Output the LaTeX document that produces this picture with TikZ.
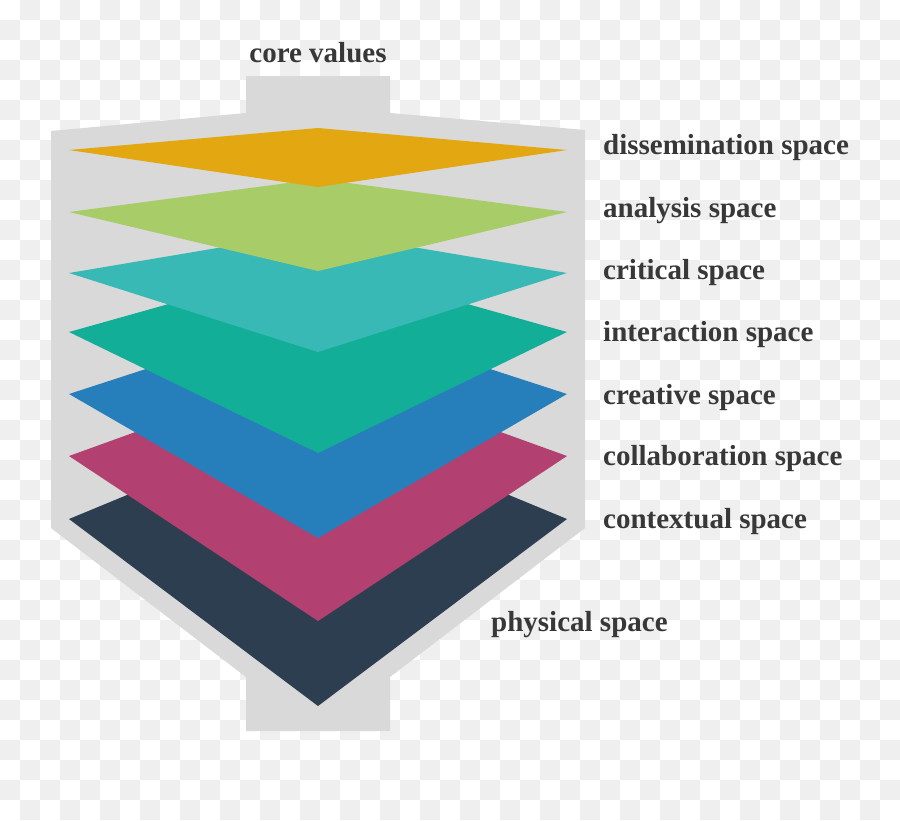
\documentclass[tikz,border=0pt]{standalone}
\usepackage{fontspec}
\setmainfont{Liberation Serif}
\definecolor{checkgray}{HTML}{EFEFEF}
\definecolor{framegray}{HTML}{D9D9D9}
\definecolor{txt}{HTML}{383838}
\definecolor{cDiss}{HTML}{E2A711}
\definecolor{cAna}{HTML}{A8CC67}
\definecolor{cCrit}{HTML}{38B9B5}
\definecolor{cInt}{HTML}{13AE98}
\definecolor{cCrea}{HTML}{267FBB}
\definecolor{cColl}{HTML}{B24172}
\definecolor{cCont}{HTML}{2D3E50}
\tikzset{
  lbl/.style={font=\bfseries\fontsize{29}{34}\selectfont, text=txt, inner sep=0pt, anchor=base west},
}
\newcommand{\layer}[5]{% color, mid y, top y, bottom y, name
  \fill[#1] (69,#2) coordinate (#5-l) -- (318,#3) coordinate (#5-t) -- (567,#2) coordinate (#5-r) -- (318,#4) coordinate (#5-b) -- cycle;
}
\begin{document}
\begin{tikzpicture}[x=1pt,y=-1pt]
\useasboundingbox (0,0) rectangle (900,820);
\fill[white] (0,0) rectangle (900,820);
% checkerboard background
\foreach \i in {0,...,44}{
  \foreach \j in {0,...,40}{
    \pgfmathparse{int(mod(\i+\j,2))}
    \ifnum\pgfmathresult=1
      \fill[checkgray] (\i*20,\j*20) rectangle ++(20,20);
    \fi
  }
}
% grey frame
\fill[framegray] (246,76) -- (390,76) -- (390,113) -- (585,130) -- (585,528)
  -- (390,677) -- (390,731) -- (246,731) -- (246,677) -- (51,528) -- (51,131)
  -- (246,113) -- cycle;
% layers, bottom first
\layer{cCont}{519}{416}{706}{cont}
\layer{cColl}{456}{366}{621}{coll}
\layer{cCrea}{394}{313}{538}{crea}
\layer{cInt}{332}{262}{453}{inter}
\layer{cCrit}{273}{231}{352}{crit}
\layer{cAna}{212}{179}{271}{ana}
\layer{cDiss}{150}{128}{187}{diss}
% labels
\node[lbl, anchor=base] (core) at (318,62) {core values};
\node[lbl] (ldiss) at (603,154) {dissemination space};
\node[lbl] (lana) at (603,217) {analysis space};
\node[lbl] (lcrit) at (603,279) {critical space};
\node[lbl] (lint) at (603,341) {interaction space};
\node[lbl] (lcrea) at (603,404) {creative space};
\node[lbl] (lcoll) at (603,465) {collaboration space};
\node[lbl] (lcont) at (603,528) {contextual space};
\node[lbl] (lphys) at (491,631) {physical space};
\end{tikzpicture}
\end{document}
